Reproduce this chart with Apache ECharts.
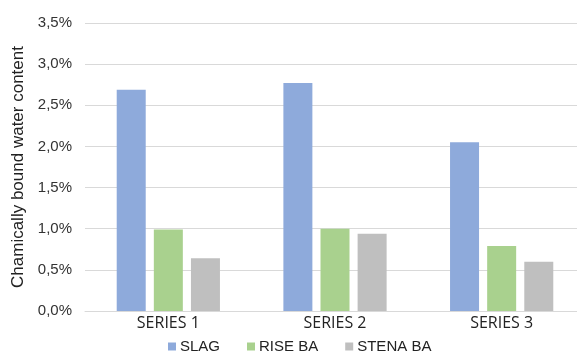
<!DOCTYPE html>
<html>
<head>
<meta charset="utf-8">
<script src="https://cdn.jsdelivr.net/npm/echarts@6/dist/echarts.min.js"></script>
<style>
  html, body { margin: 0; padding: 0; background: #fff; }
  #main { width: 577px; height: 356px; }
</style>
</head>
<body>
<div id="main"></div>
<script>
// values in percent
var categories = ["SERIES 1", "SERIES 2", "SERIES 3"];
var slag = [2.69, 2.77, 2.05];
var riseBa = [0.99, 1.00, 0.79];
var stenaBa = [0.64, 0.94, 0.60];

var chart = echarts.init(document.getElementById("main"));

function barSeries(name, data, color) {
  return {
    name: name,
    type: "bar",
    data: data,
    barWidth: 29,
    barGap: "28%",
    itemStyle: { color: color }
  };
}

chart.setOption({
  animation: false,
  textStyle: { fontFamily: "Liberation Sans" },
  legend: {
    top: 334,
    left: 163,
    itemWidth: 8,
    itemHeight: 8,
    itemGap: 27,
    icon: "rect",
    textStyle: { fontSize: 15, color: "#222", padding: [0, 0, 0, -1] },
    data: ["SLAG", "RISE BA", "STENA BA"]
  },
  grid: { left: 85, width: 500, top: 23, bottom: 45, outerBoundsMode: "none" },
  xAxis: {
    type: "category",
    data: categories,
    axisLine: { lineStyle: { color: "#d9d9d9" } },
    axisTick: { show: false },
    axisLabel: { fontSize: 16, color: "#222", fontFamily: "Open Sans", margin: 4 }
  },
  yAxis: {
    type: "value",
    min: 0,
    max: 3.5,
    interval: 0.5,
    name: "Chamically bound water content",
    nameLocation: "middle",
    nameGap: 55,
    nameTextStyle: { fontSize: 17, color: "#222" },
    axisLine: { show: false },
    axisTick: { show: false },
    splitLine: { lineStyle: { color: "#d9d9d9" } },
    axisLabel: {
      fontSize: 15,
      color: "#333",
      margin: 13,
      formatter: function (v) { return v.toFixed(1).replace(".", ",") + "%"; }
    }
  },
  series: [
    barSeries("SLAG", slag, "#8eaadb"),
    barSeries("RISE BA", riseBa, "#a9d18e"),
    barSeries("STENA BA", stenaBa, "#bfbfbf")
  ]
});
</script>
</body>
</html>
